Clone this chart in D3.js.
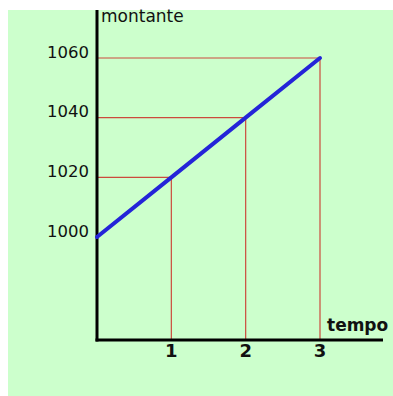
<!DOCTYPE html>
<html>
<head>
<meta charset="utf-8">
<script src="https://cdn.jsdelivr.net/npm/d3@7"></script>
<style>
  html, body { margin: 0; padding: 0; background: #ffffff; }
  svg { display: block; font-family: "DejaVu Sans", Verdana, sans-serif; }
</style>
</head>
<body>
<svg id="chart" width="393" height="396"></svg>
<script>
// Capital growth over time: amount reached at the end of each period
const periods = [0, 1, 2, 3];
const amounts = [1000, 1020, 1040, 1060];
const xTickLabels = ["1", "2", "3"];
const yTickLabels = ["1000", "1020", "1040", "1060"];
const xAxisTitle = "tempo";
const yAxisTitle = "montante";

const svg = d3.select("#chart");

// light green panel
svg.append("rect")
  .attr("x", 8).attr("y", 10)
  .attr("width", 385).attr("height", 386)
  .attr("fill", "#ccffcc");

const x = d3.scaleLinear().domain([0, 3]).range([97, 320]);
const y = d3.scaleLinear().domain([1000, 1060]).range([237, 58]);
const axisY = 340;

// red guide lines from each point to both axes
const guides = svg.append("g")
  .attr("stroke", "#cc4a3c")
  .attr("stroke-width", 1.2)
  .attr("fill", "none");

periods.forEach((p, i) => {
  if (p === 0) return;
  guides.append("line")
    .attr("x1", x(0)).attr("x2", x(p))
    .attr("y1", y(amounts[i])).attr("y2", y(amounts[i]));
  guides.append("line")
    .attr("x1", x(p)).attr("x2", x(p))
    .attr("y1", y(amounts[i])).attr("y2", axisY);
});

// axes
svg.append("line")
  .attr("x1", x(0)).attr("x2", x(0))
  .attr("y1", 10).attr("y2", axisY + 1.5)
  .attr("stroke", "#000").attr("stroke-width", 3);
svg.append("line")
  .attr("x1", x(0) - 1.5).attr("x2", 383)
  .attr("y1", axisY).attr("y2", axisY)
  .attr("stroke", "#000").attr("stroke-width", 3);

// growth line
const line = d3.line()
  .x((d, i) => x(periods[i]))
  .y(d => y(d));
svg.append("path")
  .datum(amounts)
  .attr("d", line)
  .attr("fill", "none")
  .attr("stroke", "#2424d8")
  .attr("stroke-width", 4)
  .attr("stroke-linecap", "round");

// y tick labels
svg.append("g")
  .selectAll("text")
  .data(amounts)
  .join("text")
  .attr("x", 89)
  .attr("y", d => y(d) - 0.5)
  .attr("text-anchor", "end")
  .attr("font-size", 16.5)
  .attr("fill", "#111")
  .text((d, i) => yTickLabels[i]);

// x tick labels
svg.append("g")
  .selectAll("text")
  .data(periods.slice(1))
  .join("text")
  .attr("x", d => x(d))
  .attr("y", 357)
  .attr("text-anchor", "middle")
  .attr("font-size", 18)
  .attr("font-weight", "bold")
  .attr("fill", "#111")
  .text((d, i) => xTickLabels[i]);

// axis titles
svg.append("text")
  .attr("x", 101).attr("y", 22)
  .attr("font-size", 17)
  .attr("fill", "#111")
  .text(yAxisTitle);

svg.append("text")
  .attr("x", 327).attr("y", 331)
  .attr("font-size", 17)
  .attr("font-weight", "bold")
  .attr("fill", "#111")
  .text(xAxisTitle);
</script>
</body>
</html>
